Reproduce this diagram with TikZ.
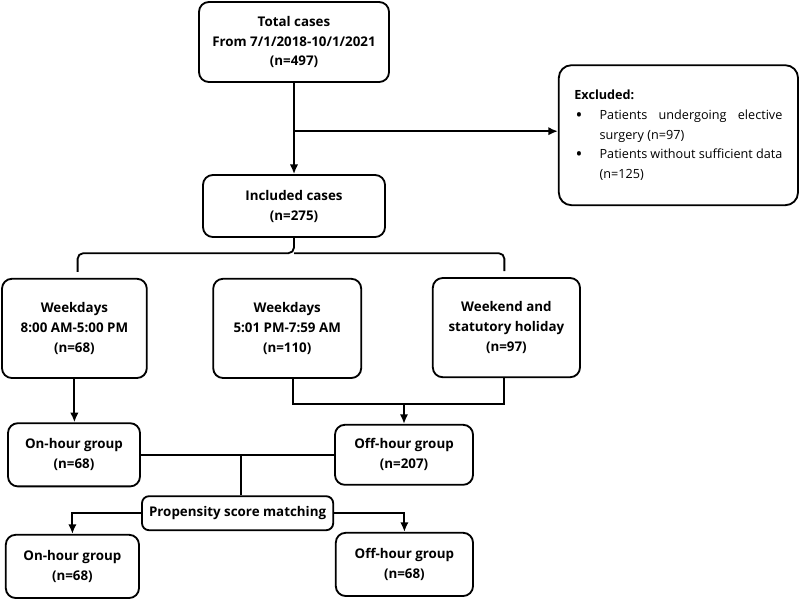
\documentclass[tikz,border=0pt]{standalone}
\usepackage{fontspec}
\setmainfont{Open Sans}
\usetikzlibrary{arrows.meta, positioning, calc}

\begin{document}
\begin{tikzpicture}[
    box/.style={draw, line width=1.3pt, rounded corners=7pt, align=center, inner sep=2pt, font=\fontsize{9.5}{14.2}\selectfont\bfseries},
    smallbox/.style={box, rounded corners=5pt},
    ln/.style={line width=1.3pt},
    arr/.style={ln, -{Latex[length=2.4mm, width=2.1mm]}},
]
\useasboundingbox (0,0) rectangle (20,-14.975);

% Top
\node[box, minimum width=4.75cm, minimum height=2cm] (total) at (7.35,-1.05) {Total cases\\From 7/1/2018-10/1/2021\\(n=497)};
\node[box, minimum width=4.55cm, minimum height=1.55cm] (incl) at (7.35,-5.15) {Included cases\\(n=275)};
\node[draw, line width=1.3pt, rounded corners=9pt, minimum width=5.98cm, minimum height=3.5cm, text width=5.2cm, align=justify, inner sep=0pt, font=\fontsize{9}{14.2}\selectfont] (excl) at (16.96,-3.38) {%
    \hyphenpenalty10000
    \textbf{Excluded:}
    \begin{list}{{\fontsize{13}{10}\selectfont\raisebox{-0.2ex}{\textbullet}}}{\setlength{\leftmargin}{0.63cm}\setlength{\labelwidth}{0.2cm}\setlength{\labelsep}{0.43cm}\setlength{\itemsep}{0pt}\setlength{\topsep}{0pt}\setlength{\parsep}{0pt}\setlength{\partopsep}{0pt}}
    \item Patients undergoing elective\linebreak surgery (n=97)
    \item Patients without sufficient data\linebreak (n=125)
    \end{list}};

\draw[arr] (total.south) -- (incl.north);
\coordinate (split) at (7.35,-3.28);
\draw[arr] (split) -- (split -| excl.west);

% Time periods
\node[box, minimum width=3.62cm, minimum height=2.48cm] (wd1) at (1.86,-8.21) {Weekdays\\8:00 AM-5:00 PM\\(n=68)};
\node[box, minimum width=3.7cm, minimum height=2.48cm] (wd2) at (7.18,-8.21) {Weekdays\\5:01 PM-7:59 AM\\(n=110)};
\node[box, minimum width=3.68cm, minimum height=2.48cm] (we) at (12.66,-8.19) {Weekend and\\statutory holiday\\(n=97)};

% Brace
\coordinate (bmid) at (7.35,-6.35);
\draw[ln, rounded corners=4pt] (incl.south) -- ($(bmid)+(0,0.02)$) -| ($(wd1.north)+(0.08,0.15)$);
\draw[ln, rounded corners=4pt] ($(bmid)+(0,0.02)$) -| ($(we.north)+(-0.05,0.15)$);

% Groups
\node[box, minimum width=3.3cm, minimum height=1.58cm] (on1) at (1.85,-11.37) {On-hour group\\(n=68)};
\node[box, minimum width=3.45cm, minimum height=1.5cm] (off1) at (10.1,-11.37) {Off-hour group\\(n=207)};

\draw[arr] (wd1.south) -- (wd1.south |- on1.north);
\coordinate (jn) at ($(off1.north)+(0,0.5)$);
\draw[ln] ($(wd2.south)+(0.15,0)$) |- (jn) -| ($(we.south)+(-0.05,0)$);
\draw[arr] (jn) -- (off1.north);

% Matching
\node[smallbox, minimum width=4.78cm, minimum height=0.85cm] (psm) at (5.94,-12.83) {Propensity score matching};
\draw[ln] (on1.east) -- (off1.west);
\draw[ln] ($(psm.north)+(0.09,0)$) -- ($(psm.north |- on1.east)+(0.09,0)$);

\node[box, minimum width=3.33cm, minimum height=1.58cm] (on2) at (1.81,-14.16) {On-hour group\\(n=68)};
\node[box, minimum width=3.43cm, minimum height=1.58cm] (off2) at (10.11,-14.11) {Off-hour group\\(n=68)};

\draw[arr] (psm.west) -| (on2.north);
\draw[arr] (psm.east) -| (off2.north);

\end{tikzpicture}
\end{document}
